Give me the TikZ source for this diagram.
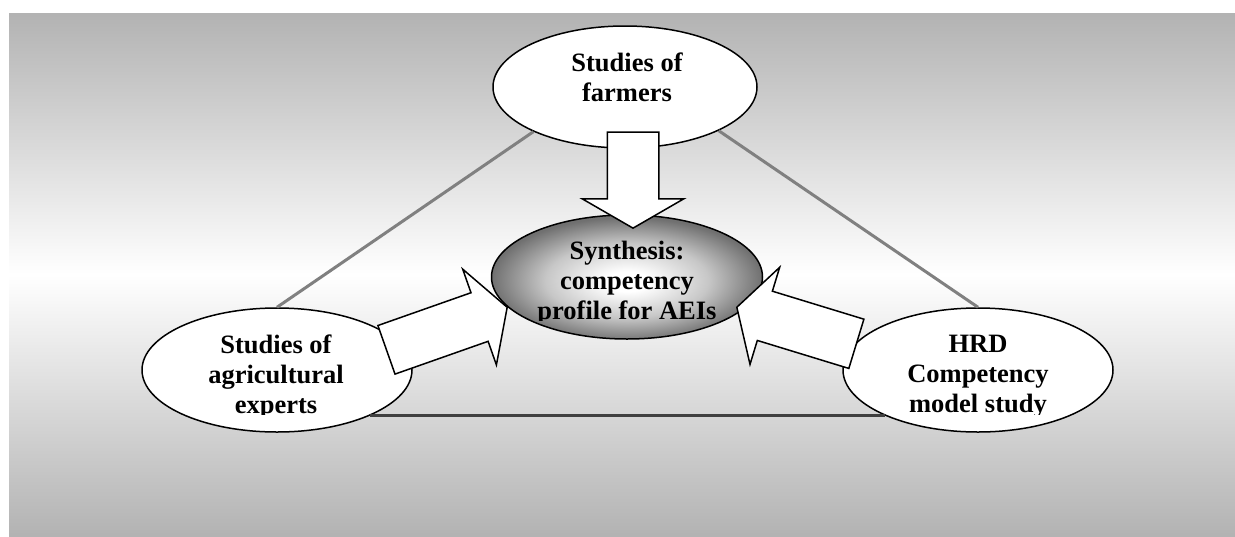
\documentclass[tikz,border=0pt]{standalone}
\usepackage{fontspec}
\setmainfont{Liberation Serif}
\usetikzlibrary{shapes.geometric,shapes.arrows}
\pgfdeclareradialshading{synthglow}{\pgfpoint{0bp}{-2bp}}{color(0bp)=(white); color(4bp)=(white);
    color(15bp)=(black!22); color(25bp)=(black!56); color(50bp)=(black!56)}

\begin{document}
\begin{tikzpicture}[x=1pt,y=-1pt,
    study/.style={ellipse,draw=black,line width=1.5pt,fill=white,inner sep=0pt,minimum width=270pt,minimum height=124pt},
    caption/.style={align=center,anchor=north,inner sep=0pt,font=\bfseries\fontsize{26.5}{30}\selectfont},
    link/.style={line width=3pt,gray},
    blockarrow/.style={single arrow,draw=black,fill=white,line width=1.5pt,minimum width=100pt,
        single arrow head extend=25pt,single arrow tip angle=120,inner xsep=0pt,inner ysep=25pt,anchor=tip}]
    \useasboundingbox (0,0) rectangle (1235,536);
    \shade[top color=gray!60,bottom color=gray!60,middle color=white] (9,13) rectangle (1235,536);
    % the four studies
    \node[study,minimum width=264pt,minimum height=122pt] (farm) at (625,87) {};
    \node[study] (agri) at (277,370) {};
    \node[study] (hrd) at (978,370) {};
    \node[study,shade,shading=synthglow,minimum width=271pt] (synth) at (627,277) {};
    \draw[link] (agri.north) -- (farm.206);
    \draw[link] (hrd.north) -- (farm.335);
    \draw[link,black!75] (agri.-26) -- (hrd.206);
    % texts, cut at the bottom as in the source
    \node[caption] (farmtext) at (627,53) {Studies of\\farmers};
    \begin{scope}
        \clip (0,0) rectangle (1235,320);
        \node[caption] (synthtext) at (627,241) {Synthesis:\\competency\\profile for AEIs};
    \end{scope}
    \begin{scope}
        \clip (0,0) rectangle (1235,414);
        \node[caption] (agritext) at (276,335) {Studies of\\agricultural\\experts};
        \node[caption] (hrdtext) at (978,335) {HRD\\Competency\\model study};
    \end{scope}
    % block arrows into the synthesis
    \node[blockarrow,minimum height=96pt,rotate=-90] (arrfarm) at (633,229) {};
    \node[blockarrow,minimum height=128pt,rotate=19.4] (arragri) at (508,307) {};
    \node[blockarrow,minimum height=125pt,rotate=163] (arrhrd) at (736,307) {};
\end{tikzpicture}
\end{document}
